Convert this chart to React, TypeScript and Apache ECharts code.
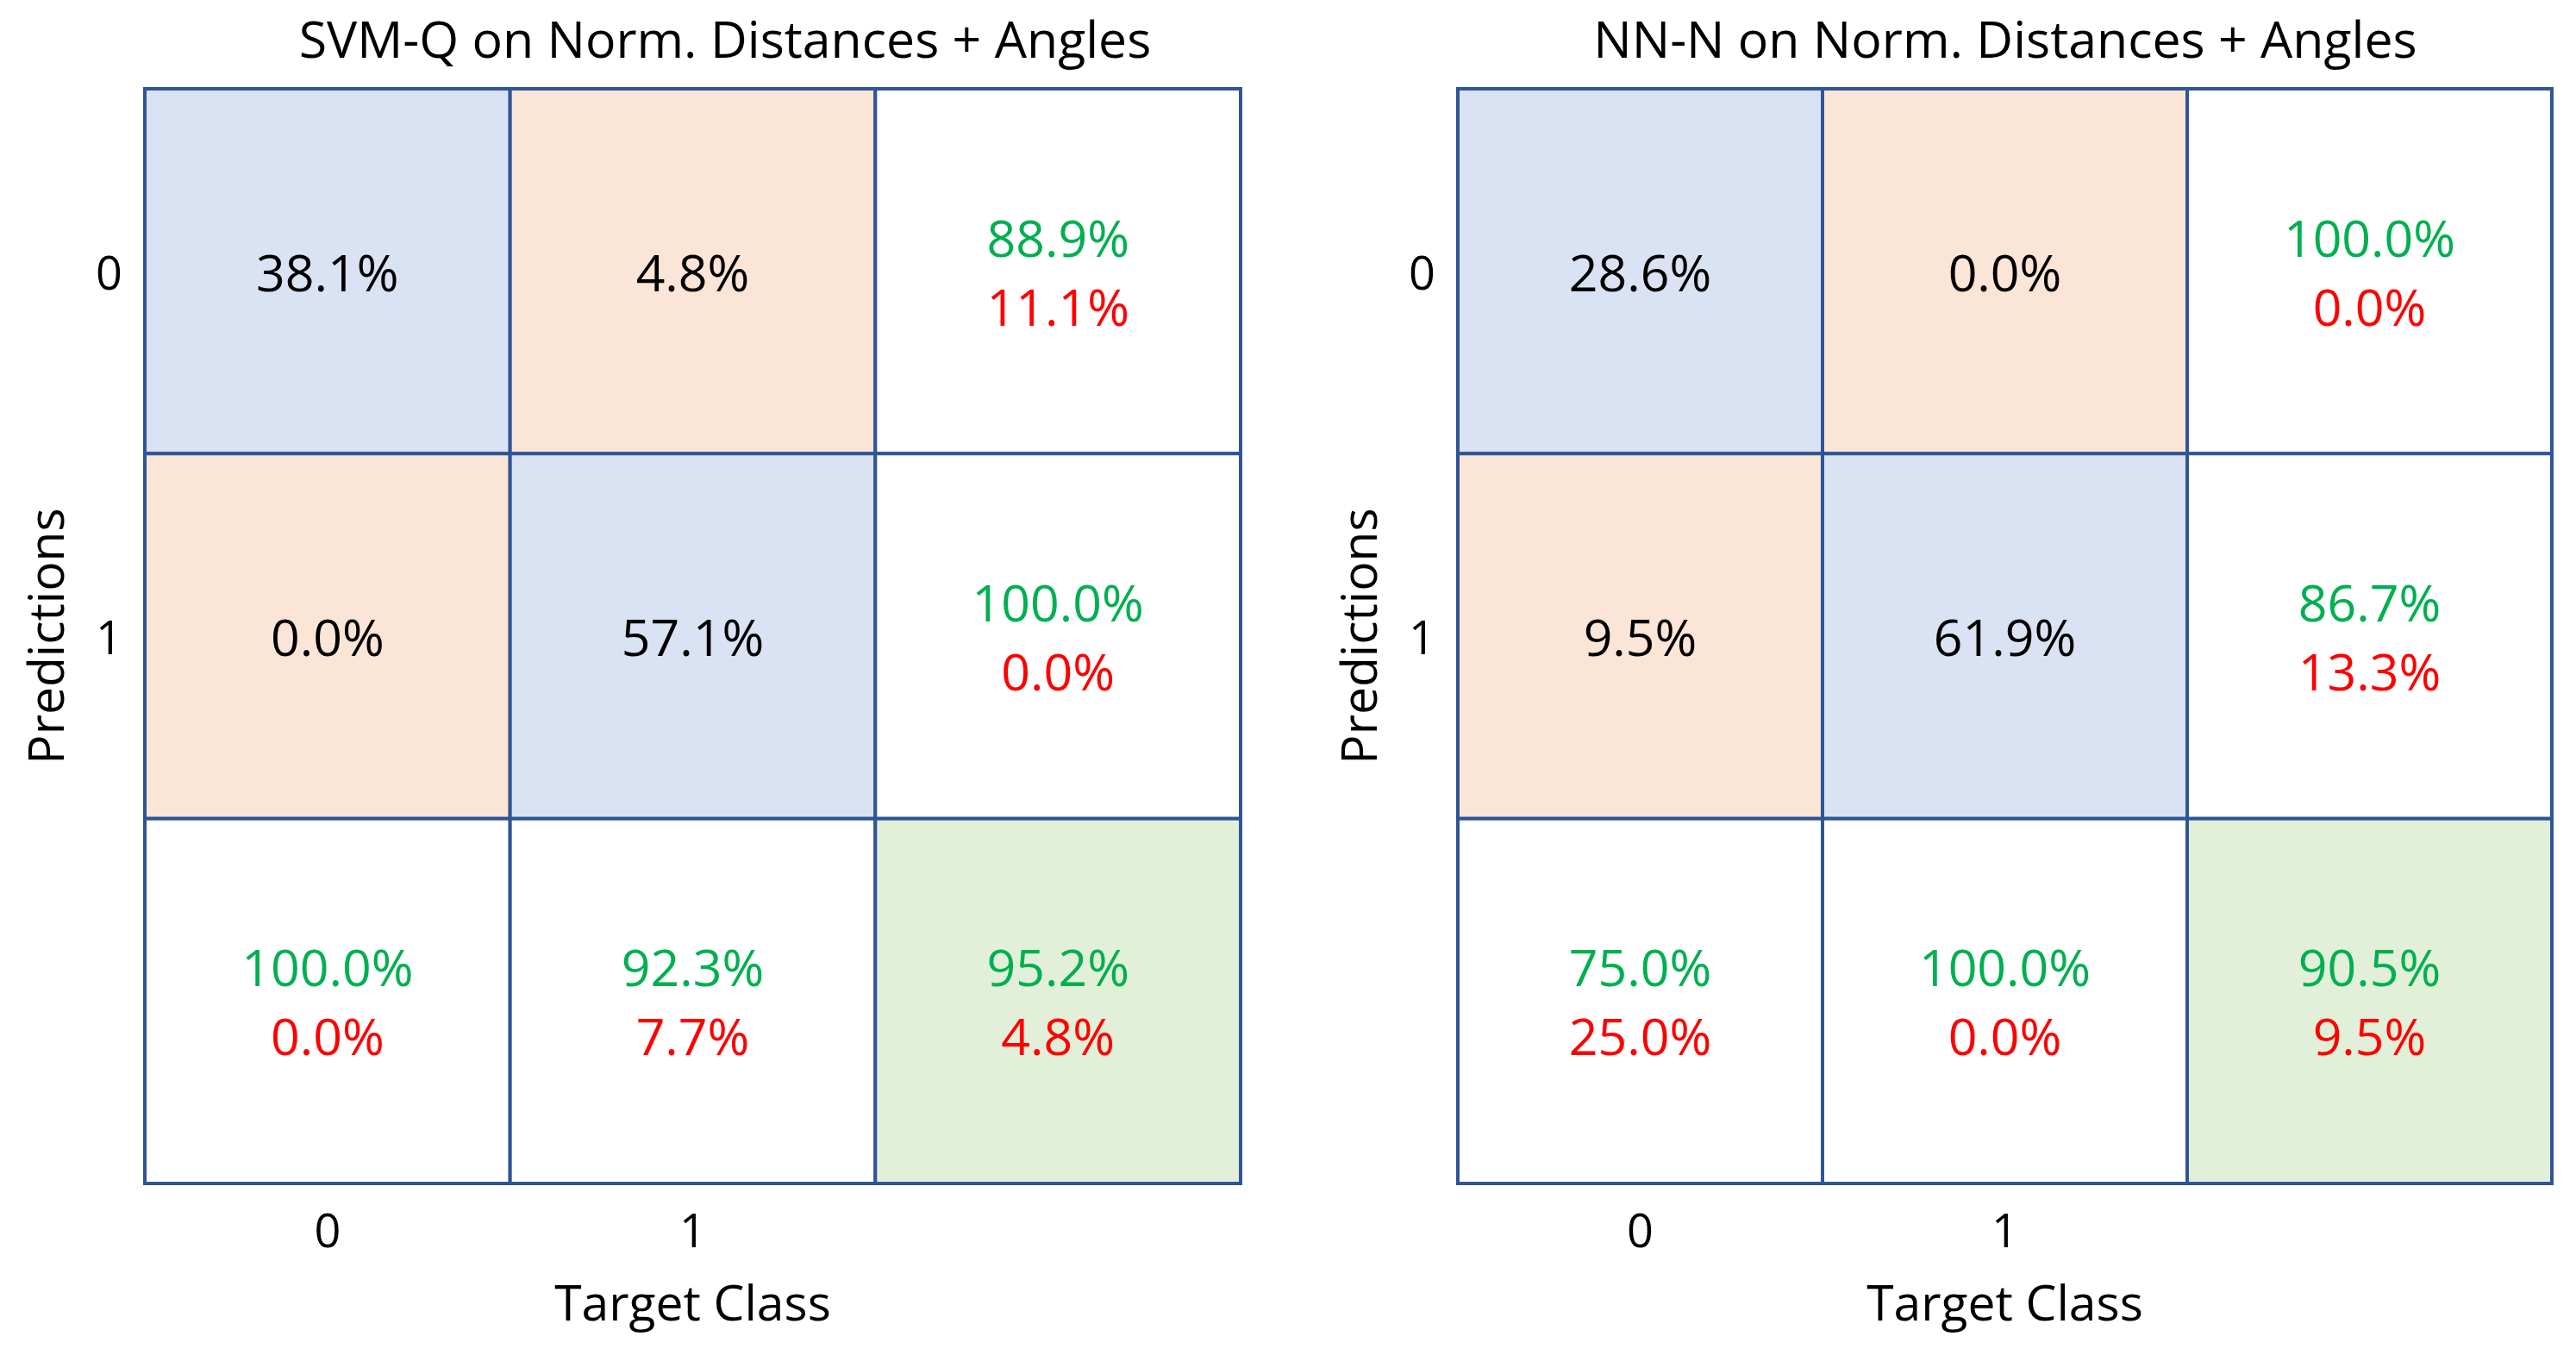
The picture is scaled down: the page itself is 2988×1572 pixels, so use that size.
import React, { useEffect, useRef } from "react";
import * as echarts from "echarts";

// ---- data ----
const targetClasses = ["0", "1", ""];
const predictionClasses = ["0", "1", ""];
const panelTitles = ["SVM-Q on Norm. Distances + Angles", "NN-N on Norm. Distances + Angles"];

// rows = prediction class, cols = target class (percent of all samples)
const svmMatrix = [
  [38.1, 4.8],
  [0.0, 57.1],
];
// per prediction row: [correct %, wrong %]
const svmRowStats = [
  [88.9, 11.1],
  [100.0, 0.0],
];
// per target column: [correct %, wrong %]
const svmColStats = [
  [100.0, 0.0],
  [92.3, 7.7],
];
const svmOverall = [95.2, 4.8];

const nnMatrix = [
  [28.6, 0.0],
  [9.5, 61.9],
];
const nnRowStats = [
  [100.0, 0.0],
  [86.7, 13.3],
];
const nnColStats = [
  [75.0, 25.0],
  [100.0, 0.0],
];
const nnOverall = [90.5, 9.5];

// ---- styles ----
const FONT = "'Open Sans', 'Noto Sans', sans-serif";
const BLUE = "#DAE3F3";
const ORANGE = "#FBE5D6";
const GREEN_BG = "#E2F0D9";
const WHITE = "#FFFFFF";
const BORDER = "#2F5597";
const GREEN_TXT = "#00B050";
const RED_TXT = "#FF0000";

const fmt = (v: number) => v.toFixed(1) + "%";

type Cell = { value: [number, number, number]; color: string; text: string };

function buildCells(
  matrix: number[][],
  rowStats: number[][],
  colStats: number[][],
  overall: number[]
): Cell[] {
  const cells: Cell[] = [];
  for (let r = 0; r < 2; r++) {
    for (let c = 0; c < 2; c++) {
      cells.push({
        value: [c, r, matrix[r][c]],
        color: r === c ? BLUE : ORANGE,
        text: `{k|${fmt(matrix[r][c])}}`,
      });
    }
    cells.push({
      value: [2, r, rowStats[r][0]],
      color: WHITE,
      text: `{g|${fmt(rowStats[r][0])}}\n{r|${fmt(rowStats[r][1])}}`,
    });
  }
  for (let c = 0; c < 2; c++) {
    cells.push({
      value: [c, 2, colStats[c][0]],
      color: WHITE,
      text: `{g|${fmt(colStats[c][0])}}\n{r|${fmt(colStats[c][1])}}`,
    });
  }
  cells.push({
    value: [2, 2, overall[0]],
    color: GREEN_BG,
    text: `{g|${fmt(overall[0])}}\n{r|${fmt(overall[1])}}`,
  });
  return cells;
}

const panels = [
  { cells: buildCells(svmMatrix, svmRowStats, svmColStats, svmOverall), left: 168, width: 1271, titleX: 836 },
  { cells: buildCells(nnMatrix, nnRowStats, nnColStats, nnOverall), left: 1691, width: 1269, titleX: 2321 },
];

const GRID_TOP = 103;
const GRID_H = 1270;

const RICH = {
  k: { fontFamily: FONT, fontSize: 59, fill: "#000000", lineHeight: 80 },
  g: { fontFamily: FONT, fontSize: 59, fill: GREEN_TXT, lineHeight: 80 },
  r: { fontFamily: FONT, fontSize: 59, fill: RED_TXT, lineHeight: 80 },
};

export default function App() {
  const ref = useRef<HTMLDivElement>(null);

  useEffect(() => {
    if (!ref.current) return;
    const chart = echarts.init(ref.current, undefined, { renderer: "svg" });

    const option: any = {
      animation: false,
      backgroundColor: "#FFFFFF",
      textStyle: { fontFamily: FONT },
      title: panels.map((p, i) => ({
        text: panelTitles[i],
        left: p.titleX,
        top: 9,
        textAlign: "center",
        textStyle: { fontFamily: FONT, fontSize: 59, fontWeight: "normal", color: "#000" },
      })),
      grid: panels.map((p) => ({
        left: p.left,
        top: GRID_TOP,
        width: p.width,
        height: GRID_H,
        containLabel: false,
      })),
      xAxis: panels.map((_, i) => ({
        type: "category",
        gridIndex: i,
        data: targetClasses,
        position: "bottom",
        axisLine: { show: false },
        axisTick: { show: false },
        splitLine: { show: false },
        axisLabel: { fontFamily: FONT, fontSize: 54, color: "#000", margin: 26 },
        name: "Target Class",
        nameLocation: "middle",
        nameGap: 108,
        nameTextStyle: { fontFamily: FONT, fontSize: 57, color: "#000" },
      })),
      yAxis: panels.map((_, i) => ({
        type: "category",
        gridIndex: i,
        data: predictionClasses,
        inverse: true,
        axisLine: { show: false },
        axisTick: { show: false },
        splitLine: { show: false },
        axisLabel: { fontFamily: FONT, fontSize: 54, color: "#000", margin: 26 },
        name: "Predictions",
        nameLocation: "middle",
        nameRotate: 90,
        nameGap: 88,
        nameTextStyle: { fontFamily: FONT, fontSize: 57, color: "#000" },
      })),
      series: panels.map((p, i) => ({
        type: "custom",
        xAxisIndex: i,
        yAxisIndex: i,
        encode: { x: 0, y: 1 },
        data: p.cells.map((c) => c.value),
        renderItem: (params: any, api: any) => {
          const cell = p.cells[params.dataIndex];
          const center = api.coord([api.value(0), api.value(1)]);
          const size = api.size([1, 1]);
          return {
            type: "group",
            children: [
              {
                type: "rect",
                shape: {
                  x: center[0] - size[0] / 2,
                  y: center[1] - size[1] / 2,
                  width: size[0],
                  height: size[1],
                },
                style: { fill: cell.color, stroke: BORDER, lineWidth: 4 },
              },
              {
                type: "text",
                x: center[0],
                y: center[1],
                style: {
                  text: cell.text,
                  rich: RICH,
                  align: "center",
                  verticalAlign: "middle",
                },
              },
            ],
          };
        },
      })),
    };

    chart.setOption(option);
    return () => chart.dispose();
  }, []);

  return (
    <div
      ref={ref}
      style={{ position: "fixed", left: 0, top: 0, width: 2988, height: 1572, background: "#fff" }}
    />
  );
}
